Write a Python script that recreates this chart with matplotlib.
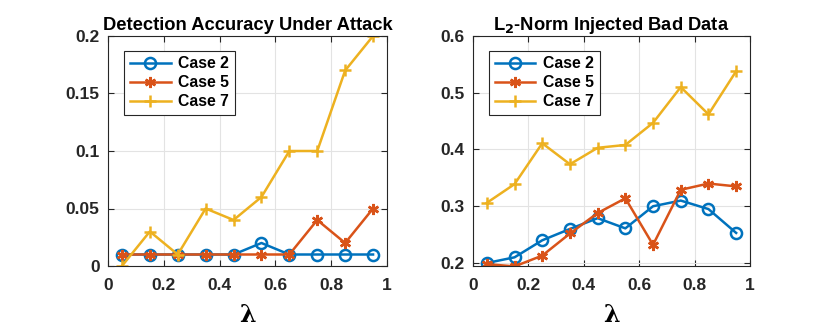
import numpy as np
import matplotlib
matplotlib.use('Agg')
import matplotlib.pyplot as plt

# data
lam = [0.05, 0.15, 0.25, 0.35, 0.45, 0.55, 0.65, 0.75, 0.85, 0.95]
labels = ['Case 2', 'Case 5', 'Case 7']

acc_case2 = [0.01, 0.01, 0.01, 0.01, 0.01, 0.02, 0.01, 0.01, 0.01, 0.01]
acc_case5 = [0.01, 0.01, 0.01, 0.01, 0.01, 0.01, 0.01, 0.04, 0.02, 0.05]
acc_case7 = [0.0, 0.03, 0.01, 0.05, 0.04, 0.06, 0.10, 0.10, 0.17, 0.20]

l2_case2 = [0.200, 0.210, 0.240, 0.260, 0.279, 0.261, 0.300, 0.310, 0.295, 0.253]
l2_case5 = [0.198, 0.194, 0.213, 0.252, 0.288, 0.314, 0.232, 0.329, 0.340, 0.335]
l2_case7 = [0.306, 0.339, 0.411, 0.374, 0.403, 0.408, 0.447, 0.510, 0.462, 0.538]

colors = ['#0072BD', '#D95319', '#EDB120']
asterisk = (6, 2, 0)

plt.rcParams['font.family'] = ['Liberation Sans', 'DejaVu Sans']
plt.rcParams['font.weight'] = 'bold'

fig = plt.figure(figsize=(8.3, 3.29), dpi=100)
ax1 = fig.add_axes([108/830, 63/329, 279/830, 230/329])
ax2 = fig.add_axes([473/830, 63/329, 277/830, 230/329])


def draw(ax, c2, c5, c7):
    ax.plot(lam, c2, color=colors[0], lw=1.8, marker='o', ms=8, mfc='none', mew=1.8, label=labels[0])
    ax.plot(lam, c5, color=colors[1], lw=1.8, marker=asterisk, ms=8, mew=1.8, label=labels[1])
    ax.plot(lam, c7, color=colors[2], lw=1.8, marker='+', ms=9, mew=1.8, label=labels[2])
    ax.set_xlim(0, 1)
    ax.set_xticks([0, 0.2, 0.4, 0.6, 0.8, 1])
    ax.set_xticklabels(['0', '0.2', '0.4', '0.6', '0.8', '1'])
    ax.grid(True, color='#e3e3e3', lw=0.8)
    ax.set_axisbelow(True)
    ax.tick_params(direction='in', top=True, right=True, labelsize=12.5, colors='#262626', length=4)
    ax.tick_params(axis='x', pad=9)
    ax.tick_params(axis='y', pad=6)
    for sp in ax.spines.values():
        sp.set_color('#262626')
        sp.set_linewidth(0.8)
    ax.set_xlabel('λ', fontsize=17, family='DejaVu Serif', fontweight='bold', labelpad=7)
    leg = ax.legend(loc='upper left', bbox_to_anchor=(0.03, 0.97), fontsize=11.3, handlelength=2.6,
                    fancybox=False, framealpha=1, edgecolor='#262626', borderpad=0.35,
                    labelspacing=0.25, handletextpad=0.5)
    leg.get_frame().set_linewidth(0.8)


draw(ax1, acc_case2, acc_case5, acc_case7)
ax1.set_ylim(0, 0.2)
ax1.set_yticks([0, 0.05, 0.1, 0.15, 0.2])
ax1.set_yticklabels(['0', '0.05', '0.1', '0.15', '0.2'])
ax1.set_title('Detection Accuracy Under Attack', fontsize=13.2, fontweight='bold', pad=4)

draw(ax2, l2_case2, l2_case5, l2_case7)
ax2.set_ylim(0.1947, 0.6)
ax2.set_yticks([0.2, 0.3, 0.4, 0.5, 0.6])
ax2.set_yticklabels(['0.2', '0.3', '0.4', '0.5', '0.6'])
ax2.set_title(r'L$_\mathbf{2}$-Norm Injected Bad Data', fontsize=13.2, fontweight='bold', pad=4)

fig.savefig('out.png', dpi=100)
